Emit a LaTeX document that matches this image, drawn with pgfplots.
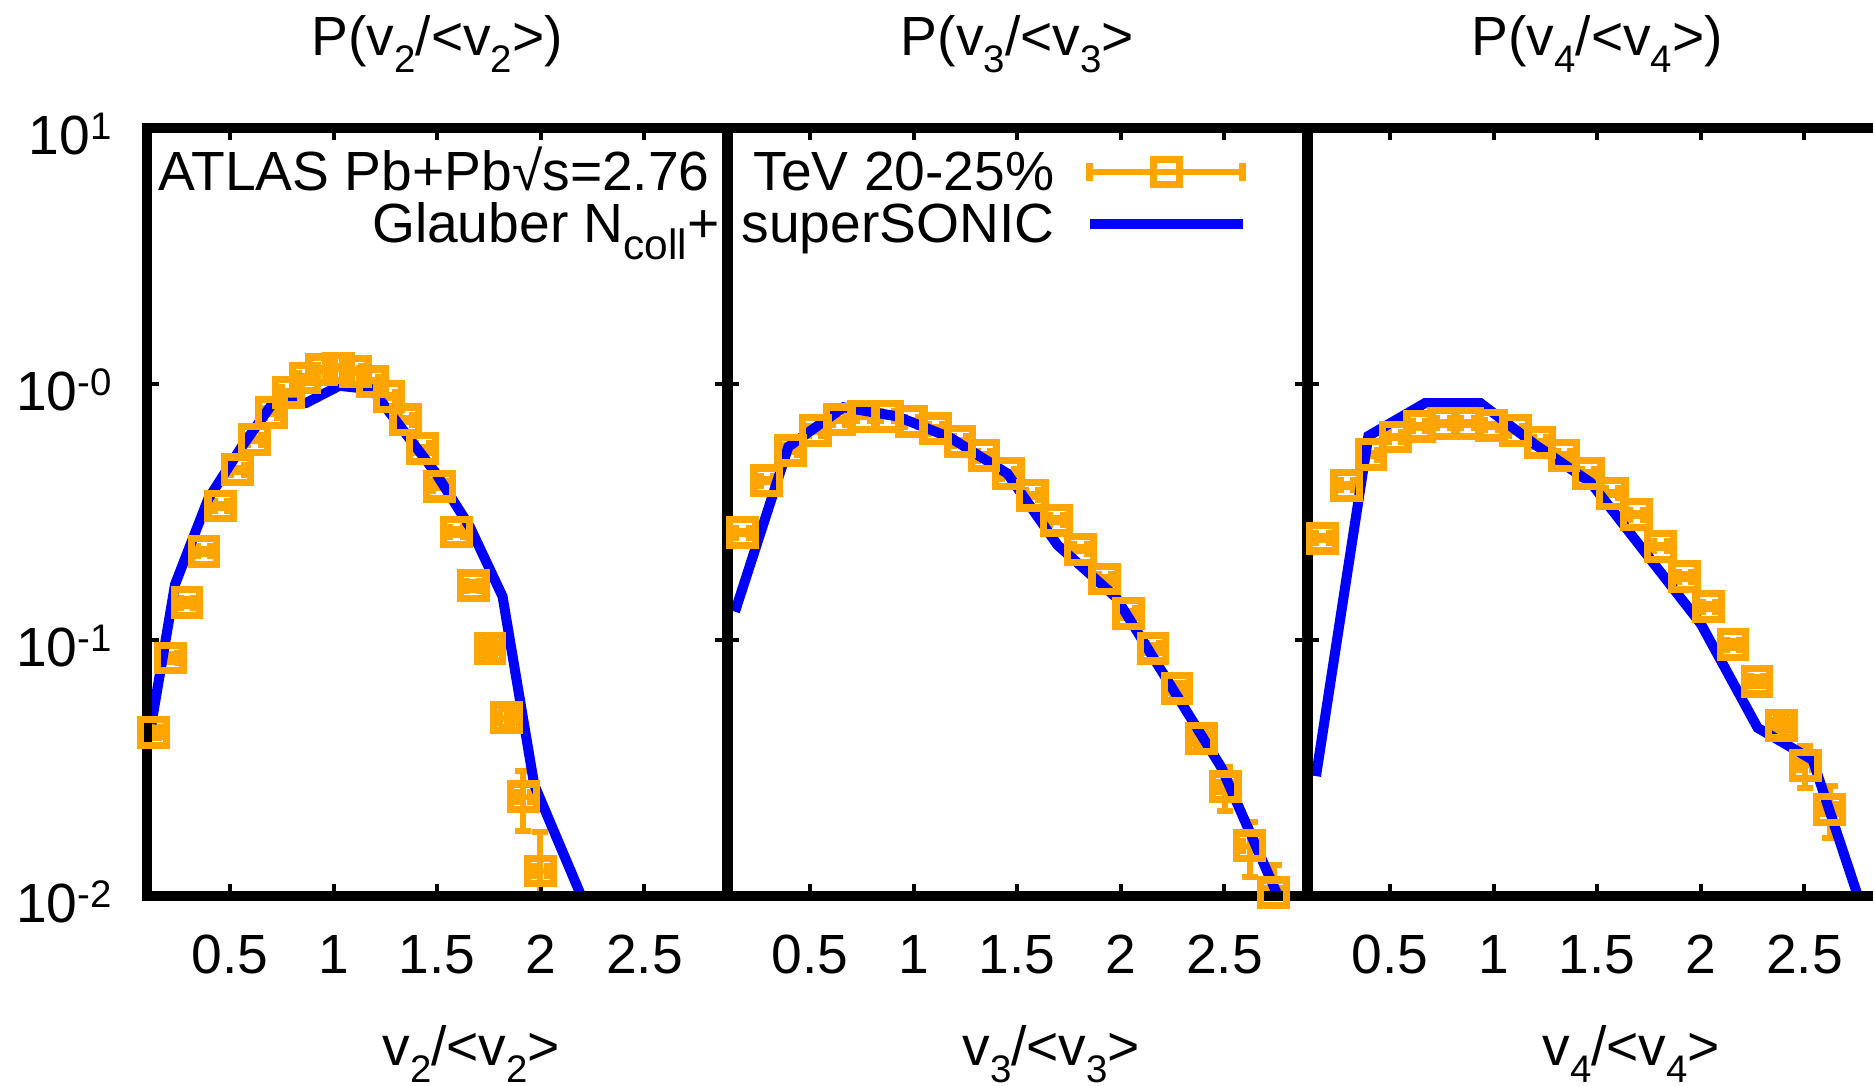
\documentclass[border=0pt]{standalone}
\usepackage{pgfplots}
\pgfplotsset{compat=1.18}
\usepackage{fontspec}
\setmainfont{Liberation Sans}
\newcommand\fs{\fontsize{13.8}{16.5}\selectfont}
\newcommand\sub[1]{\raisebox{-4.25pt}{\fontsize{9.6}{9.6}\selectfont #1}}
\newcommand\lsub[1]{\raisebox{-4.25pt}{\fontsize{10.6}{10.6}\selectfont #1}}
\newcommand\sups[1]{\raisebox{3.9pt}{\fontsize{9.6}{9.6}\selectfont #1}}
\definecolor{gporange}{HTML}{FFA500}
\definecolor{gpblue}{HTML}{0000FF}

\pgfplotsset{
  vpanel/.style={
    scale only axis, width=145pt, height=192pt,
    xmin=0.1, xmax=2.9, ymin=0.01, ymax=10,
    xtick={0.5,1,1.5,2,2.5}, xticklabels={0.5,1,1.5,2,2.5},
    ytick={0.01,0.1,1,10}, yminorticks=false,
    axis line style={line width=2.6pt, line cap=rect},
    major tick length=3pt,
    major tick style={black, line width=1pt},
    tick align=inside,
    tick label style={font=\fs, inner sep=0pt},
    xticklabel style={anchor=base, yshift=-19.25pt},
    yticklabel style={anchor=base east, xshift=-8.7pt, yshift=-6.7pt},
    title style={font=\fs, at={(0.5,1)}, anchor=base, yshift=12.25pt, inner sep=0pt},
    xlabel style={font=\fs, at={(0.5,0)}, anchor=base, xshift=8.5pt, yshift=-42.25pt, inner sep=0pt},
    axis on top,
  },
  atlasdata/.style={gporange, only marks, mark=square, mark size=3.2pt,
    mark options={line width=1.8pt, solid},
    error bars/.cd, x dir=both, x explicit, y dir=both, y explicit,
    error bar style={line width=1.5pt},
    error mark options={rotate=90, mark size=2pt, line width=1.5pt}},
  sonicline/.style={gpblue, line width=2.5pt, no marks},
}

\begin{document}
\begin{tikzpicture}
% ---------------- panel 1 : v2 ----------------
\begin{semilogyaxis}[vpanel, at={(0pt,0pt)},
  yticklabels={10\sups{-2},10\sups{-1},10\sups{-0},10\sups{1}},
  title={P(v\sub{2}/<v\sub{2}>)},
  xlabel={v\sub{2}/<v\sub{2}>},
  legend style={at={(1.8975,0.97656)}, anchor=north east, draw=none, fill=none,
    inner sep=0pt, outer sep=0pt, row sep=0pt, column sep=7.6pt, font=\fs,
    nodes={inner sep=0pt, outer sep=0pt, text height=11.2pt, text depth=1.8pt}},
  legend cell align=right, legend plot pos=right]
\addplot[legend image code/.code={
    \draw[gporange, line width=1.7pt] (0pt,0pt) -- (38.25pt,0pt);
    \draw[gporange, line width=1.7pt] (0pt,-2.3pt) -- (0pt,2.3pt) (38.25pt,-2.3pt) -- (38.25pt,2.3pt);
    \draw[gporange, line width=1.8pt] (15.925pt,-3.2pt) rectangle (22.325pt,3.2pt);
  }, atlasdata] table[x=x, y=y, x error=ex, y error=ey] {
x      y       ex     ey
0.130  0.0436  0.03   0.002
0.211  0.085   0.03   0.003
0.292  0.140   0.03   0.004
0.374  0.222   0.03   0.005
0.455  0.334   0.03   0.006
0.536  0.462   0.03   0.008
0.617  0.607   0.03   0.010
0.698  0.773   0.03   0.012
0.780  0.929   0.03   0.013
0.861  1.056   0.03   0.014
0.942  1.137   0.03   0.015
1.023  1.156   0.03   0.015
1.104  1.120   0.03   0.015
1.186  1.020   0.03   0.014
1.267  0.893   0.03   0.013
1.348  0.725   0.03   0.012
1.429  0.560   0.03   0.010
1.510  0.399   0.03   0.008
1.592  0.264   0.03   0.007
1.673  0.163   0.03   0.006
1.754  0.0929  0.03   0.005
1.835  0.0497  0.03   0.004
1.916  0.0244  0.03   0.0065
1.998  0.01253 0.03   0.0053
};
\addlegendentry{ATLAS Pb+Pb√s=2.76\hspace{11pt}TeV 20-25\%}
\addplot[sonicline, legend image code/.code={
    \draw[gpblue, line width=2.5pt] (0pt,0pt) -- (38.25pt,0pt);}] table {
0.120  0.047
0.234  0.165
0.395  0.357
0.556  0.569
0.710  0.851
0.866  0.843
1.027  0.984
1.185  0.953
1.490  0.452
1.658  0.276
1.815  0.148
1.968  0.0272
2.300  0.0063
};
\addlegendentry{Glauber N\lsub{coll}+\hspace{5.5pt}superSONIC}
\end{semilogyaxis}
% ---------------- panel 2 : v3 ----------------
\begin{semilogyaxis}[vpanel, at={(145pt,0pt)},
  yticklabels={},
  title={P(v\sub{3}/<v\sub{3}>},
  xlabel={v\sub{3}/<v\sub{3}>}]
\addplot[atlasdata] table[x=x, y=y, x error=ex, y error=ey] {
x      y       ex     ey
0.174  0.263   0.03   0.004
0.291  0.419   0.03   0.006
0.407  0.551   0.03   0.007
0.524  0.658   0.03   0.008
0.640  0.725   0.03   0.008
0.757  0.748   0.03   0.008
0.873  0.748   0.03   0.008
0.990  0.713   0.03   0.008
1.106  0.669   0.03   0.008
1.223  0.597   0.03   0.007
1.339  0.525   0.03   0.007
1.456  0.447   0.03   0.006
1.572  0.368   0.03   0.005
1.689  0.294   0.03   0.005
1.805  0.226   0.03   0.004
1.922  0.173   0.03   0.004
2.038  0.127   0.03   0.003
2.155  0.0929  0.03   0.003
2.271  0.0648  0.03   0.003
2.388  0.0412  0.03   0.003
2.504  0.0267  0.03   0.0052
2.621  0.0157  0.03   0.0038
2.737  0.0103  0.03   0.0029
};
\addplot[sonicline] table {
0.137  0.129
0.395  0.569
0.661  0.811
0.919  0.748
1.177  0.617
1.452  0.447
1.694  0.235
1.976  0.147
2.484  0.0319
2.900  0.0055
};
\end{semilogyaxis}
% ---------------- panel 3 : v4 ----------------
\begin{semilogyaxis}[vpanel, at={(290pt,0pt)},
  yticklabels={},
  title={P(v\sub{4}/<v\sub{4}>)},
  xlabel={v\sub{4}/<v\sub{4}>}]
\addplot[atlasdata] table[x=x, y=y, x error=ex, y error=ey] {
x      y       ex     ey
0.174  0.250   0.03   0.004
0.291  0.402   0.03   0.006
0.407  0.530   0.03   0.007
0.524  0.621   0.03   0.008
0.640  0.684   0.03   0.008
0.757  0.702   0.03   0.008
0.873  0.702   0.03   0.008
0.990  0.690   0.03   0.008
1.106  0.658   0.03   0.008
1.223  0.592   0.03   0.007
1.339  0.525   0.03   0.007
1.456  0.447   0.03   0.006
1.572  0.374   0.03   0.005
1.689  0.309   0.03   0.005
1.805  0.232   0.03   0.004
1.922  0.177   0.03   0.004
2.038  0.135   0.03   0.003
2.155  0.0959  0.03   0.003
2.271  0.069   0.03   0.003
2.388  0.0465  0.03   0.004
2.504  0.0324  0.03   0.006
2.621  0.0218  0.03   0.005
};
\addplot[sonicline] table {
0.142  0.0294
0.395  0.627
0.669  0.843
0.935  0.843
1.202  0.578
1.468  0.412
2.000  0.1156
2.274  0.0454
2.540  0.034
2.900  0.0045
};
\end{semilogyaxis}
\pgfresetboundingbox
\useasboundingbox (-36.825pt,-47.25pt) rectangle (431.425pt,224pt);
\end{tikzpicture}
\end{document}
